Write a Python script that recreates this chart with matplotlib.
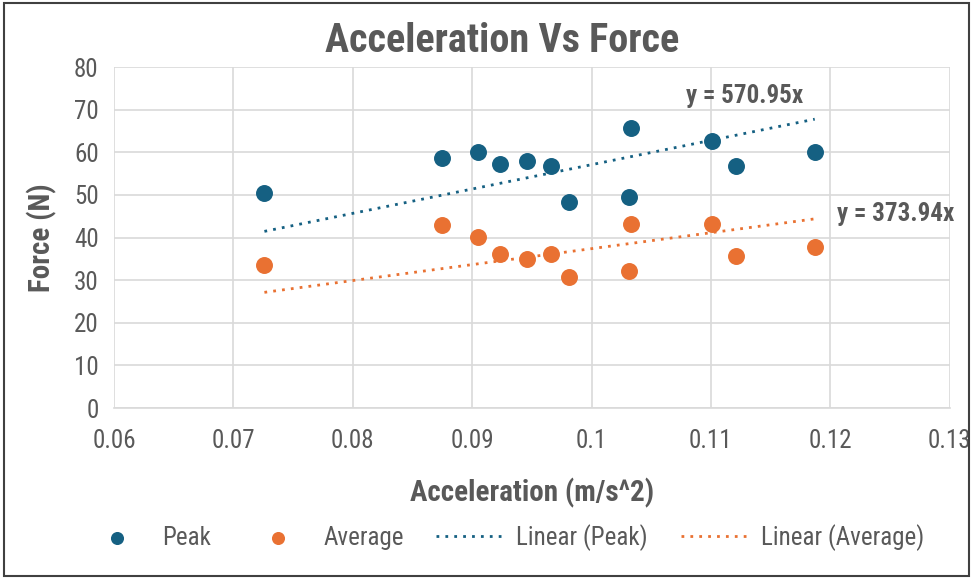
import numpy as np
import matplotlib
matplotlib.use("Agg")
import matplotlib.pyplot as plt
from matplotlib.patches import Rectangle

plt.rcParams['font.family'] = ['Roboto Condensed', 'Roboto', 'DejaVu Sans']

acceleration = [0.0726, 0.0875, 0.0905, 0.0923, 0.0946, 0.0966,
                0.0981, 0.1031, 0.1033, 0.1101, 0.1121, 0.1187]
peak_force = [50.5, 58.7, 60.1, 57.3, 58.0, 56.8,
              48.4, 49.5, 65.7, 62.7, 56.8, 60.1]
average_force = [33.6, 43.0, 40.1, 36.2, 35.0, 36.2,
                 30.8, 32.2, 43.2, 43.2, 35.7, 37.8]
peak_slope = 570.95
average_slope = 373.94

x_ticks = [0.06, 0.07, 0.08, 0.09, 0.1, 0.11, 0.12, 0.13]
x_tick_labels = ["0.06", "0.07", "0.08", "0.09", "0.1", "0.11", "0.12", "0.13"]
y_ticks = [0, 10, 20, 30, 40, 50, 60, 70, 80]

blue = '#156082'
orange = '#E97132'
text_grey = '#595959'

fig = plt.figure(figsize=(9.71, 5.78), dpi=100)
ax = fig.add_axes([0.1174, 0.294, 0.8606, 0.59])

ax.scatter(acceleration, peak_force, s=125, color=blue, label="Peak", zorder=3)
ax.scatter(acceleration, average_force, s=125, color=orange, label="Average", zorder=3)

# trendlines through the origin, spanning the data range
x_line = np.array([min(acceleration), max(acceleration)])
ax.plot(x_line, peak_slope * x_line, color=blue, linestyle=(0, (1, 2.2)),
        linewidth=2, label="Linear (Peak)", zorder=2)
ax.plot(x_line, average_slope * x_line, color=orange, linestyle=(0, (1, 2.2)),
        linewidth=2, label="Linear (Average)", zorder=2)

ax.text(0.1128, 73.3, "y = {0}x".format(peak_slope), fontsize=18, fontweight='bold',
        color=text_grey, ha='center', va='center')
ax.text(0.1206, 45.6, "y = {0}x".format(average_slope), fontsize=18, fontweight='bold',
        color=text_grey, ha='left', va='center')

ax.set_xlim(0.06, 0.13)
ax.set_ylim(0, 80)
ax.set_xticks(x_ticks, x_tick_labels)
ax.set_yticks(y_ticks)
ax.tick_params(length=0, labelsize=18, colors=text_grey, pad=15)
ax.tick_params(axis='y', pad=11)
ax.grid(True, color='#d9d9d9', linewidth=1.2, zorder=0)
ax.set_axisbelow(True)
for side in ['top', 'right', 'left']:
    ax.spines[side].set_visible(False)
ax.spines['bottom'].set_color('#d9d9d9')
ax.spines['bottom'].set_linewidth(1.2)

ax.set_title("Acceleration Vs Force", fontsize=29, fontweight='bold', color=text_grey,
             pad=11, x=0.464)
ax.set_xlabel("Acceleration (m/s^2)", fontsize=21, fontweight='bold', color=text_grey, labelpad=18)
ax.set_ylabel("Force (N)", fontsize=21, fontweight='bold', color=text_grey, labelpad=12)

fig.legend(loc='center', bbox_to_anchor=(0.518, 0.07), ncol=4, frameon=False,
           fontsize=18, labelcolor=text_grey, handlelength=2.8, columnspacing=1.3,
           handletextpad=0.4, markerscale=0.75)

fig.add_artist(Rectangle((0.004, 0.004), 0.994, 0.99, transform=fig.transFigure,
                         fill=False, edgecolor='#404040', linewidth=1.5))

fig.savefig("out.png", dpi=100)
